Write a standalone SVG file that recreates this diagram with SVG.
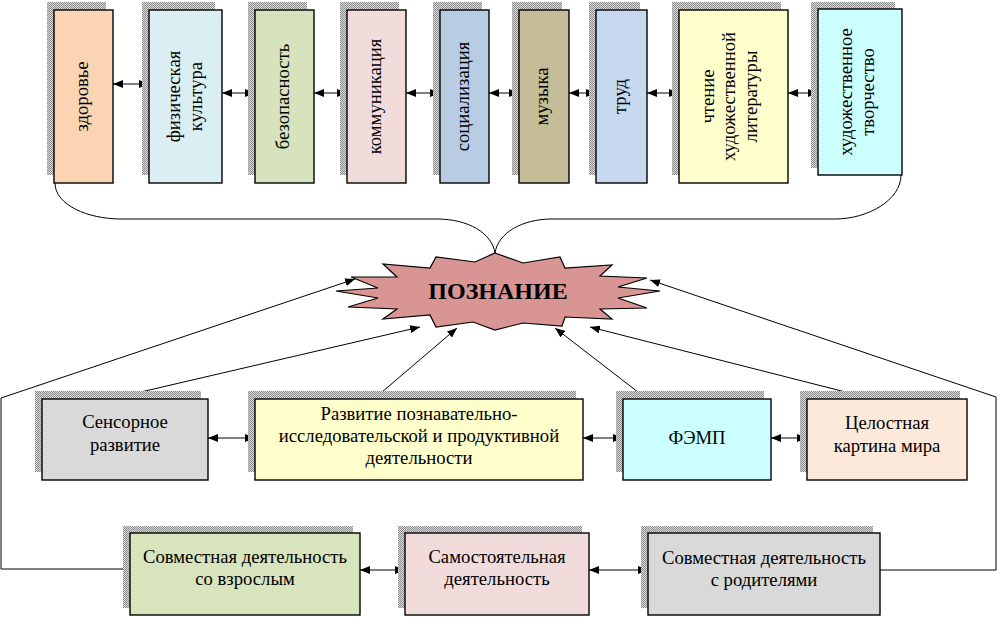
<svg xmlns="http://www.w3.org/2000/svg" width="997" height="619" viewBox="0 0 997 619">
<style>
  .box{stroke:#000;stroke-width:1.4}
  .sh{fill:url(#hatch)}
  .t{font-family:"Liberation Serif","Times New Roman",serif;font-size:18.67px;fill:#000;text-anchor:middle}
  .ln{fill:none;stroke:#000;stroke-width:1}
  .ar{fill:none;stroke:#000;stroke-width:1;marker-end:url(#ah)}
  .dar{fill:none;stroke:#000;stroke-width:1;marker-start:url(#ah);marker-end:url(#ah)}
</style>
<defs>
  <pattern id="hatch" width="2" height="2" patternUnits="userSpaceOnUse">
    <rect width="2" height="2" fill="#dcdcdc"/>
    <rect width="1" height="1" fill="#8a8a8a"/>
    <rect x="1" y="1" width="1" height="1" fill="#8a8a8a"/>
  </pattern>
  <marker id="ah" viewBox="0 0 10 8" refX="10" refY="4" markerWidth="10" markerHeight="8" markerUnits="userSpaceOnUse" orient="auto-start-reverse">
    <path d="M0,0 L10,4 L0,8 z" fill="#000"/>
  </marker>
</defs>
<rect width="997" height="619" fill="#fff"/>

<g id="connectors">
  <line class="dar" x1="113" y1="84" x2="149" y2="84"/>
  <line class="dar" x1="222" y1="93" x2="255" y2="93"/>
  <line class="dar" x1="314" y1="93" x2="347" y2="93"/>
  <line class="dar" x1="406" y1="93" x2="440" y2="93"/>
  <line class="dar" x1="489" y1="93" x2="519" y2="93"/>
  <line class="dar" x1="569" y1="93" x2="596" y2="93"/>
  <line class="dar" x1="647" y1="93" x2="679" y2="93"/>
  <line class="dar" x1="788" y1="93" x2="818" y2="93"/>
  <path class="ln" d="M55,183 C55,205 88,219 121,219 L437,219 C468,219 492,233 495,253"/>
  <path class="ln" d="M901,175 C901,200 868,219 835,219 L552,219 C522,219 498,233 495,253"/>
  <line class="dar" x1="208" y1="438" x2="255" y2="438"/>
  <line class="dar" x1="583" y1="438" x2="623" y2="438"/>
  <line class="dar" x1="771" y1="438" x2="807" y2="438"/>
  <line class="dar" x1="360" y1="570" x2="405" y2="570"/>
  <line class="dar" x1="589" y1="570" x2="648" y2="570"/>
  <polyline class="ar" points="130,569 1,569 1,398 355,279"/>
  <line class="ar" x1="115" y1="398" x2="420" y2="327"/>
  <line class="ar" x1="375" y1="398" x2="457" y2="328"/>
  <line class="ar" x1="647" y1="399" x2="555" y2="328"/>
  <line class="ar" x1="873" y1="399" x2="590" y2="327"/>
  <polyline class="ar" points="880,570 996,570 996,397 650,280"/>
</g>

<g id="n-zdorovie">
  <rect class="sh" x="47" y="2" width="59" height="173"/>
  <rect class="box" x="54" y="10" width="59" height="173" fill="#FBD4B4"/>
  <text class="t" transform="translate(83.5,96.5) rotate(-90)" y="4.2">здоровье</text>
</g>
<g id="n-fizkultura">
  <rect class="sh" x="142" y="2" width="73" height="173"/>
  <rect class="box" x="149" y="10" width="73" height="173" fill="#DAEEF3"/>
  <text class="t" transform="translate(186.5,96.5) rotate(-90)" y="-6.5"><tspan x="0">физическая</tspan><tspan x="0" dy="21.5">культура</tspan></text>
</g>
<g id="n-bezopasnost">
  <rect class="sh" x="248" y="2" width="59" height="173"/>
  <rect class="box" x="255" y="10" width="59" height="173" fill="#D6E3BC"/>
  <text class="t" transform="translate(284.5,96.5) rotate(-90)" y="4.2">безопасность</text>
</g>
<g id="n-kommunikaciya">
  <rect class="sh" x="340" y="2" width="59" height="173"/>
  <rect class="box" x="347" y="10" width="59" height="173" fill="#F2DCDB"/>
  <text class="t" transform="translate(376.5,96.5) rotate(-90)" y="4.2">коммуникация</text>
</g>
<g id="n-socializaciya">
  <rect class="sh" x="433" y="2" width="49" height="173"/>
  <rect class="box" x="440" y="10" width="49" height="173" fill="#B8CCE4"/>
  <text class="t" transform="translate(464.5,96.5) rotate(-90)" y="4.2">социализация</text>
</g>
<g id="n-muzyka">
  <rect class="sh" x="512" y="2" width="50" height="173"/>
  <rect class="box" x="519" y="10" width="50" height="173" fill="#C4BD97"/>
  <text class="t" transform="translate(544,96.5) rotate(-90)" y="4.2">музыка</text>
</g>
<g id="n-trud">
  <rect class="sh" x="589" y="2" width="51" height="173"/>
  <rect class="box" x="596" y="10" width="51" height="173" fill="#C6D9F1"/>
  <text class="t" transform="translate(621.5,96.5) rotate(-90)" y="4.2">труд</text>
</g>
<g id="n-chtenie">
  <rect class="sh" x="672" y="2" width="109" height="173"/>
  <rect class="box" x="679" y="10" width="109" height="173" fill="#FFFFCC"/>
  <text class="t" transform="translate(733.5,96.5) rotate(-90)" y="-20"><tspan x="0">чтение</tspan><tspan x="0" dy="21.5">художественной</tspan><tspan x="0" dy="21.5">литературы</tspan></text>
</g>
<g id="n-tvorchestvo">
  <rect class="sh" x="811" y="2" width="84" height="166"/>
  <rect class="box" x="818" y="9" width="84" height="166" fill="#CCFFFF"/>
  <text class="t" transform="translate(860,92) rotate(-90)" y="-8"><tspan x="0">художественное</tspan><tspan x="0" dy="22">творчество</tspan></text>
</g>

<g id="n-poznanie">
  <path d="M495,253 L523,263 L560,257 L565,268 L612,265 L600,276 L647,278 L618,287 L660,291 L618,298 L647,308 L600,309 L612,319 L565,317 L562,326 L523,323 L495,330 L473,322 L436,327 L430,315 L383,319 L397,309 L348,307 L378,298 L336,291 L378,288 L351,277 L397,277 L383,264 L430,268 L436,257 L475,262 Z" fill="#D99594" stroke="#000" stroke-width="1.2"/>
  <text x="498" y="299" style="font-family:'Liberation Serif','Times New Roman',serif;font-size:24px;font-weight:bold;text-anchor:middle">ПОЗНАНИЕ</text>
</g>

<g id="n-sensor">
  <rect class="sh" x="35" y="391" width="166" height="81"/>
  <rect class="box" x="42" y="399" width="166" height="81" fill="#D9D9D9"/>
  <text class="t" x="125" y="428"><tspan x="125">Сенсорное</tspan><tspan x="125" dy="23">развитие</tspan></text>
</g>
<g id="n-razvitie">
  <rect class="sh" x="248" y="391" width="328" height="81"/>
  <rect class="box" x="255" y="399" width="328" height="81" fill="#FFFFCC"/>
  <text class="t" x="419" y="420"><tspan x="419">Развитие познавательно-</tspan><tspan x="419" dy="22">исследовательской и продуктивной</tspan><tspan x="419" dy="22">деятельности</tspan></text>
</g>
<g id="n-femp">
  <rect class="sh" x="616" y="391" width="148" height="81"/>
  <rect class="box" x="623" y="399" width="148" height="81" fill="#CCFFFF"/>
  <text class="t" x="697" y="444">ФЭМП</text>
</g>
<g id="n-celostnaya">
  <rect class="sh" x="800" y="391" width="160" height="81"/>
  <rect class="box" x="807" y="399" width="160" height="81" fill="#FDE9D9"/>
  <text class="t" x="887" y="429"><tspan x="887">Целостная</tspan><tspan x="887" dy="22.5">картина мира</tspan></text>
</g>

<g id="n-sovm-vzrosl">
  <rect class="sh" x="123" y="526" width="230" height="82"/>
  <rect class="box" x="130" y="533" width="230" height="82" fill="#D7E4BC"/>
  <text class="t" x="245" y="563"><tspan x="245">Совместная деятельность</tspan><tspan x="245" dy="22">со взрослым</tspan></text>
</g>
<g id="n-samost">
  <rect class="sh" x="398" y="526" width="184" height="82"/>
  <rect class="box" x="405" y="533" width="184" height="82" fill="#F2DCDB"/>
  <text class="t" x="497" y="563"><tspan x="497">Самостоятельная</tspan><tspan x="497" dy="22">деятельность</tspan></text>
</g>
<g id="n-sovm-rodit">
  <rect class="sh" x="641" y="526" width="232" height="82"/>
  <rect class="box" x="648" y="533" width="232" height="82" fill="#D9D9D9"/>
  <text class="t" x="764" y="564"><tspan x="764">Совместная деятельность</tspan><tspan x="764" dy="22">с родителями</tspan></text>
</g>
</svg>
